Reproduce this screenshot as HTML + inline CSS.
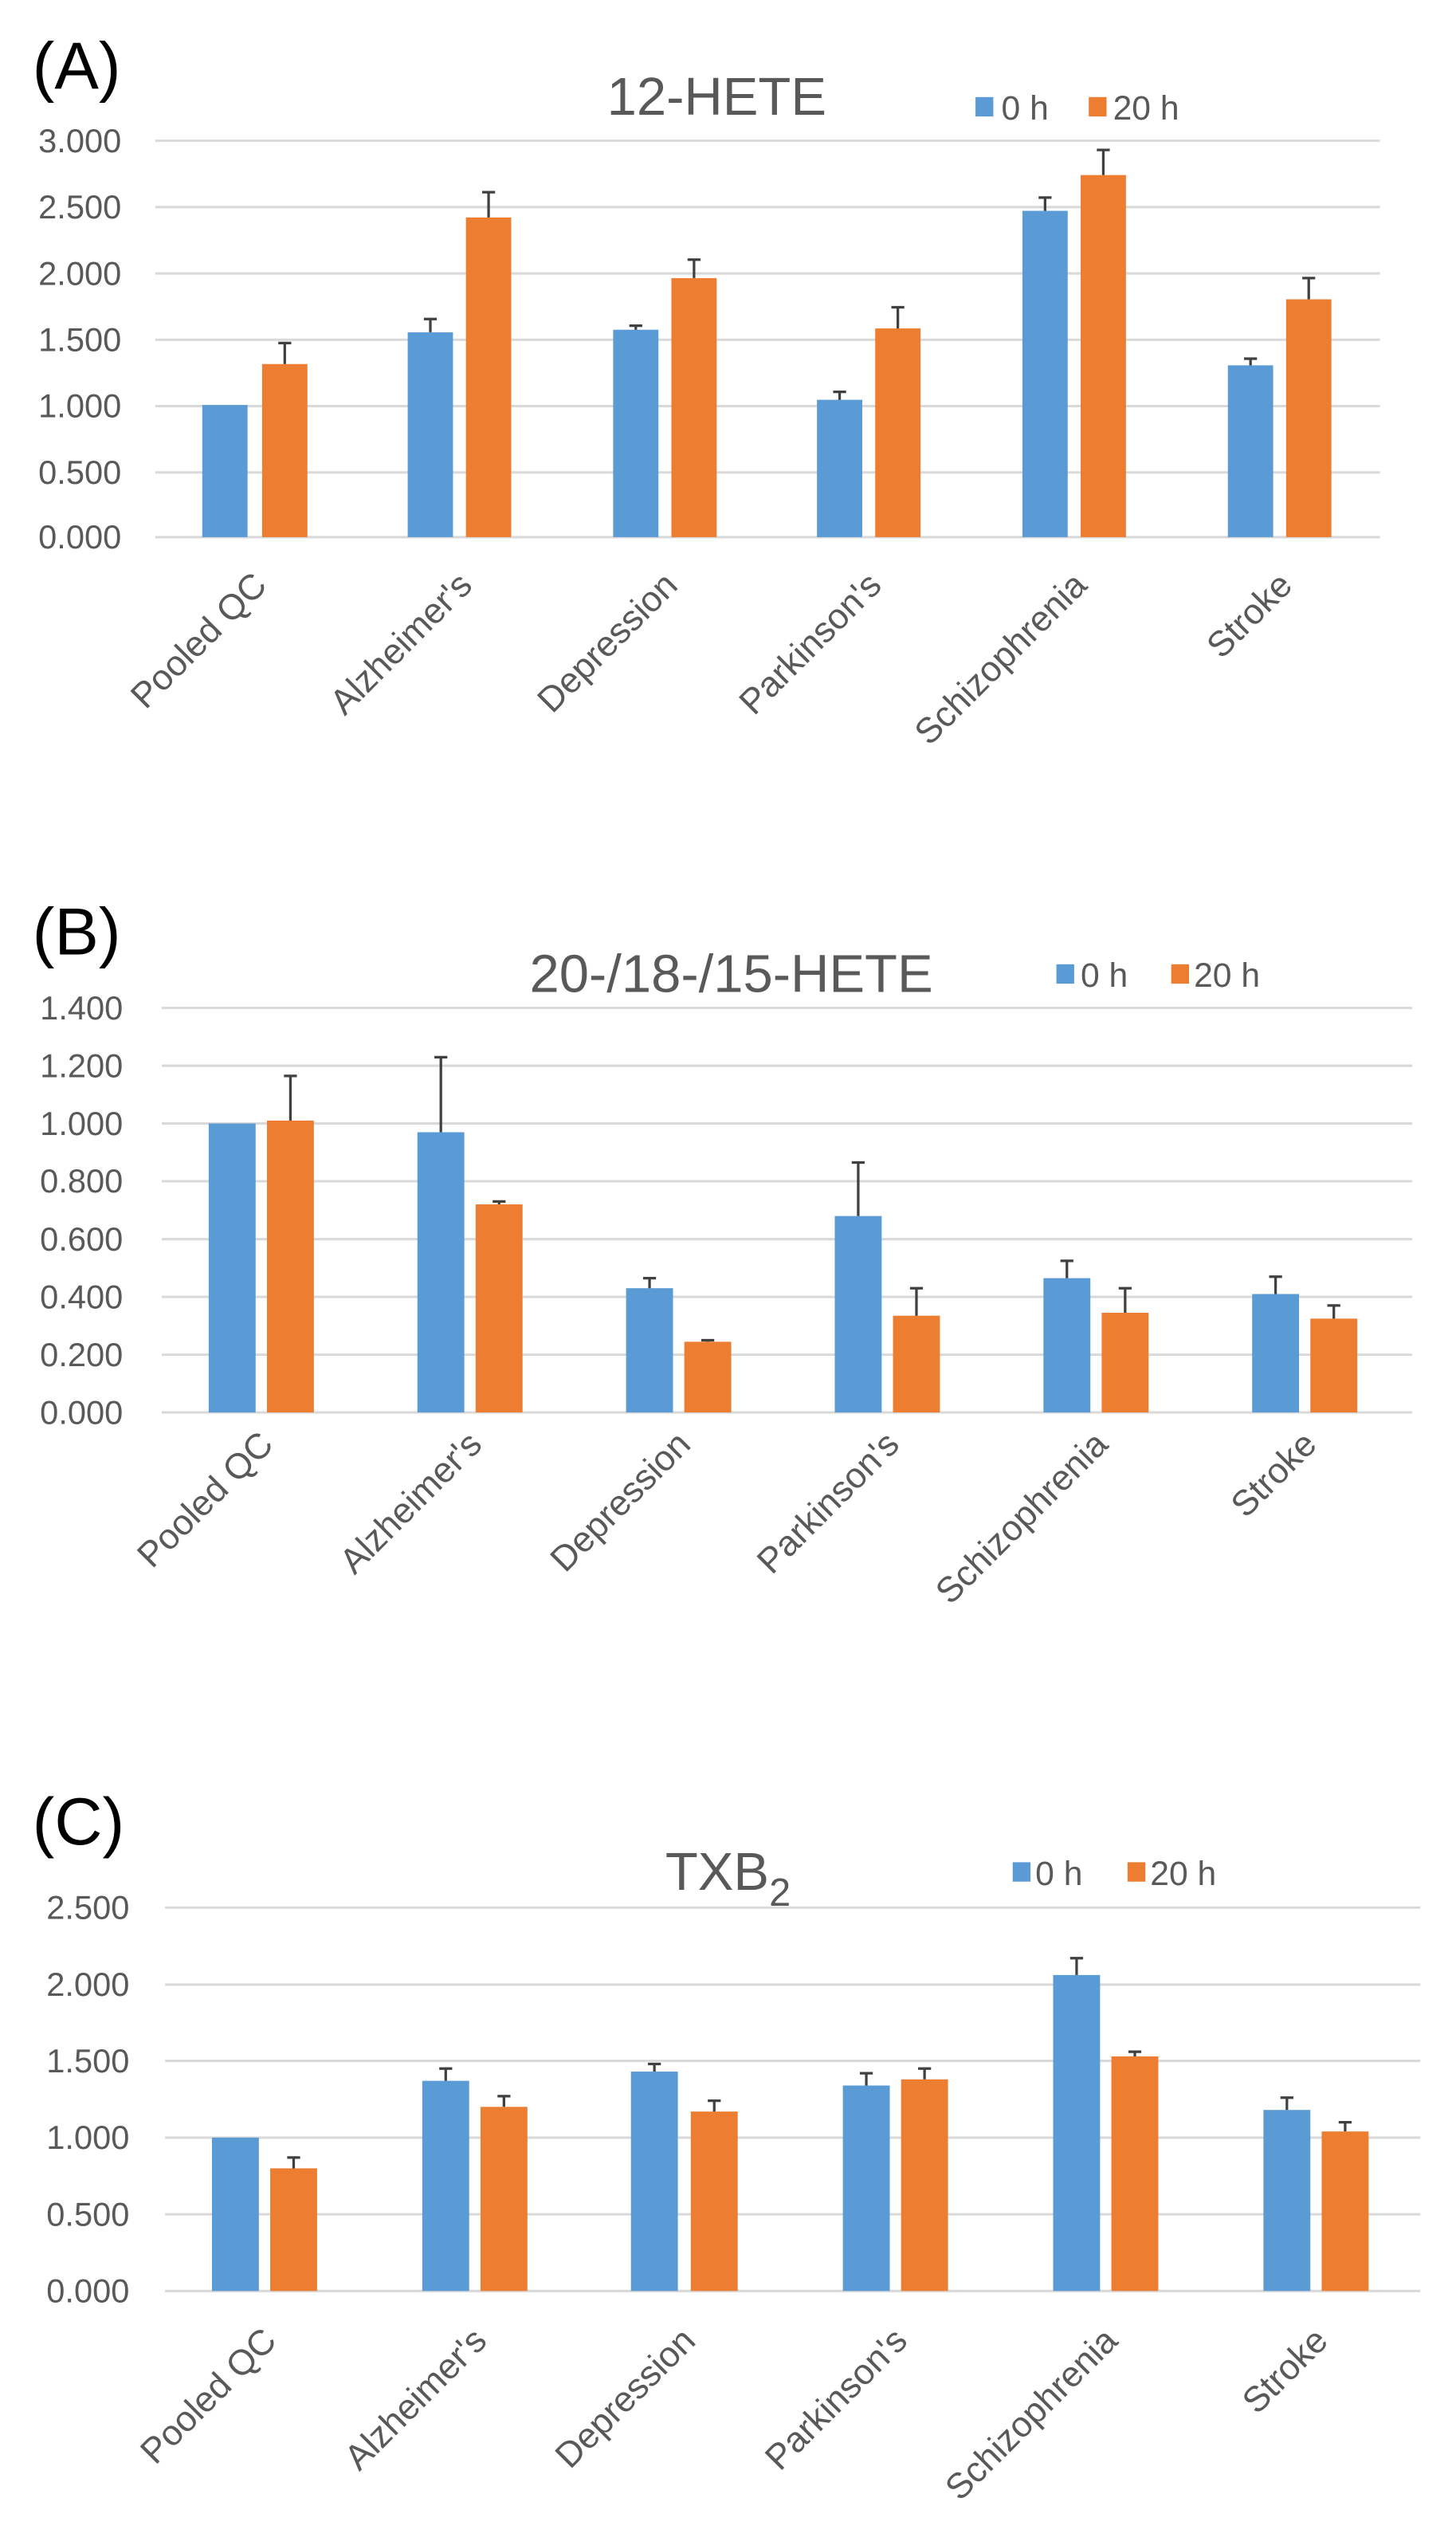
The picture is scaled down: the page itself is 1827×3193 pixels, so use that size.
<!DOCTYPE html>
<html><head><meta charset="utf-8"><style>html,body{margin:0;padding:0;background:#fff}svg{display:block}</style></head>
<body>
<svg xmlns="http://www.w3.org/2000/svg" width="1827" height="3193" viewBox="0 0 900 1573" font-family="Liberation Sans, Arial, sans-serif">
<rect width="900" height="1573" fill="#fff"/>
<!-- Panel A -->
<text x="20" y="55" font-size="41" fill="#000">(A)</text>
<text x="443" y="71" font-size="33" fill="#595959" text-anchor="middle">12-HETE</text>
<rect x="603" y="60" width="11" height="12" fill="#5B9BD5"/><text x="619" y="74" font-size="21" fill="#595959">0 h</text>
<rect x="673" y="60" width="11" height="12" fill="#ED7D31"/><text x="688" y="74" font-size="21" fill="#595959">20 h</text>
<g stroke="#D9D9D9" stroke-width="1.5">
<line x1="96" x2="853" y1="87" y2="87"/><line x1="96" x2="853" y1="128" y2="128"/><line x1="96" x2="853" y1="169" y2="169"/><line x1="96" x2="853" y1="210" y2="210"/><line x1="96" x2="853" y1="251" y2="251"/><line x1="96" x2="853" y1="292" y2="292"/><line x1="96" x2="853" y1="332" y2="332"/>
</g>
<g font-size="20.5" fill="#595959" text-anchor="end">
<text x="75" y="94">3.000</text><text x="75" y="135">2.500</text><text x="75" y="176">2.000</text><text x="75" y="217">1.500</text><text x="75" y="258">1.000</text><text x="75" y="299">0.500</text><text x="75" y="339">0.000</text>
</g>
<g fill="#5B9BD5">
<rect x="125" y="250.3" width="28" height="81.7"/><rect x="252" y="205.4" width="28" height="126.6"/><rect x="379" y="203.8" width="28" height="128.2"/><rect x="505" y="247.1" width="28" height="84.9"/><rect x="632" y="130.3" width="28" height="201.7"/><rect x="759" y="225.8" width="28" height="106.2"/>
</g>
<g fill="#ED7D31">
<rect x="162" y="225" width="28" height="107"/><rect x="288" y="134.4" width="28" height="197.6"/><rect x="415" y="171.9" width="28" height="160.1"/><rect x="541" y="203" width="28" height="129"/><rect x="668" y="108.2" width="28" height="223.8"/><rect x="795" y="185" width="28" height="147"/>
</g>
<g stroke="#404040" stroke-width="1.6" fill="none">
<path d="M176 225V212M172 212H180"/><path d="M266 205.4V197.2M262 197.2H270"/><path d="M302 134.4V118.8M298 118.8H306"/><path d="M393 203.8V201.3M389 201.3H397"/><path d="M429 171.9V160.5M425 160.5H433"/><path d="M519 247.1V242.2M515 242.2H523"/><path d="M555 203V189.9M551 189.9H559"/><path d="M646 130.3V122.1M642 122.1H650"/><path d="M682 108.2V92.7M678 92.7H686"/><path d="M773 225.8V221.7M769 221.7H777"/><path d="M809 185V171.9M805 171.9H813"/>
</g>
<g font-size="22" fill="#595959" text-anchor="end">
<text transform="translate(166,363) rotate(-45)">Pooled QC</text><text transform="translate(293,363) rotate(-45)">Alzheimer's</text><text transform="translate(420,363) rotate(-45)">Depression</text><text transform="translate(546,363) rotate(-45)">Parkinson's</text><text transform="translate(673,363) rotate(-45)">Schizophrenia</text><text transform="translate(800,363) rotate(-45)">Stroke</text>
</g>
<!-- Panel B -->
<text x="20" y="590" font-size="41" fill="#000">(B)</text>
<text x="452" y="613" font-size="33" fill="#595959" text-anchor="middle">20-/18-/15-HETE</text>
<rect x="653" y="596" width="11" height="12" fill="#5B9BD5"/><text x="668" y="610" font-size="21" fill="#595959">0 h</text>
<rect x="724" y="596" width="11" height="12" fill="#ED7D31"/><text x="738" y="610" font-size="21" fill="#595959">20 h</text>
<g stroke="#D9D9D9" stroke-width="1.5">
<line x1="100" x2="873" y1="623" y2="623"/><line x1="100" x2="873" y1="658.7" y2="658.7"/><line x1="100" x2="873" y1="694.4" y2="694.4"/><line x1="100" x2="873" y1="730.1" y2="730.1"/><line x1="100" x2="873" y1="765.9" y2="765.9"/><line x1="100" x2="873" y1="801.6" y2="801.6"/><line x1="100" x2="873" y1="837.3" y2="837.3"/><line x1="100" x2="873" y1="873" y2="873"/>
</g>
<g font-size="20.5" fill="#595959" text-anchor="end">
<text x="76" y="630">1.400</text><text x="76" y="665.7">1.200</text><text x="76" y="701.4">1.000</text><text x="76" y="737.1">0.800</text><text x="76" y="772.9">0.600</text><text x="76" y="808.6">0.400</text><text x="76" y="844.3">0.200</text><text x="76" y="880">0.000</text>
</g>
<g fill="#5B9BD5">
<rect x="129" y="694.4" width="29" height="178.6"/><rect x="258" y="699.8" width="29" height="173.2"/><rect x="387" y="796.2" width="29" height="76.8"/><rect x="516" y="751.6" width="29" height="121.4"/><rect x="645" y="790" width="29" height="83"/><rect x="774" y="799.8" width="29" height="73.2"/>
</g>
<g fill="#ED7D31">
<rect x="165" y="692.6" width="29" height="180.4"/><rect x="294" y="744.4" width="29" height="128.6"/><rect x="423" y="829.3" width="29" height="43.7"/><rect x="552" y="813.2" width="29" height="59.8"/><rect x="681" y="811.4" width="29" height="61.6"/><rect x="810" y="815" width="29" height="58"/>
</g>
<g stroke="#404040" stroke-width="1.6" fill="none">
<path d="M179.5 692.6V665M175.5 665H183.5"/><path d="M272.5 699.8V653.4M268.5 653.4H276.5"/><path d="M308.5 744.4V742.6M304.5 742.6H312.5"/><path d="M401.5 796.2V790M397.5 790H405.5"/><path d="M437.5 829.3V828.4M433.5 828.4H441.5"/><path d="M530.5 751.6V718.5M526.5 718.5H534.5"/><path d="M566.5 813.2V796.2M562.5 796.2H570.5"/><path d="M659.5 790V779.3M655.5 779.3H663.5"/><path d="M695.5 811.4V796.2M691.5 796.2H699.5"/><path d="M788.5 799.8V789.1M784.5 789.1H792.5"/><path d="M824.5 815V806.9M820.5 806.9H828.5"/>
</g>
<g font-size="22" fill="#595959" text-anchor="end">
<text transform="translate(170,894) rotate(-45)">Pooled QC</text><text transform="translate(299,894) rotate(-45)">Alzheimer's</text><text transform="translate(428,894) rotate(-45)">Depression</text><text transform="translate(557,894) rotate(-45)">Parkinson's</text><text transform="translate(686,894) rotate(-45)">Schizophrenia</text><text transform="translate(815,894) rotate(-45)">Stroke</text>
</g>
<!-- Panel C -->
<text x="20" y="1140" font-size="41" fill="#000">(C)</text>
<text x="450" y="1168" font-size="33" fill="#595959" text-anchor="middle">TXB<tspan font-size="24" dy="10">2</tspan></text>
<rect x="626" y="1151" width="11" height="12" fill="#5B9BD5"/><text x="640" y="1165" font-size="21" fill="#595959">0 h</text>
<rect x="697" y="1151" width="11" height="12" fill="#ED7D31"/><text x="711" y="1165" font-size="21" fill="#595959">20 h</text>
<g stroke="#D9D9D9" stroke-width="1.5">
<line x1="102" x2="878" y1="1179" y2="1179"/><line x1="102" x2="878" y1="1226.6" y2="1226.6"/><line x1="102" x2="878" y1="1273.8" y2="1273.8"/><line x1="102" x2="878" y1="1321.2" y2="1321.2"/><line x1="102" x2="878" y1="1368.6" y2="1368.6"/><line x1="102" x2="878" y1="1416" y2="1416"/>
</g>
<g font-size="20.5" fill="#595959" text-anchor="end">
<text x="80" y="1186">2.500</text><text x="80" y="1233.6">2.000</text><text x="80" y="1280.8">1.500</text><text x="80" y="1328.2">1.000</text><text x="80" y="1375.6">0.500</text><text x="80" y="1423">0.000</text>
</g>
<g fill="#5B9BD5">
<rect x="131" y="1321.2" width="29" height="94.8"/><rect x="261" y="1286.1" width="29" height="129.9"/><rect x="390" y="1280.4" width="29" height="135.6"/><rect x="521" y="1289" width="29" height="127"/><rect x="651" y="1220.7" width="29" height="195.3"/><rect x="781" y="1304.1" width="29" height="111.9"/>
</g>
<g fill="#ED7D31">
<rect x="167" y="1340.2" width="29" height="75.8"/><rect x="297" y="1302.2" width="29" height="113.8"/><rect x="427" y="1305.1" width="29" height="110.9"/><rect x="557" y="1285.2" width="29" height="130.8"/><rect x="687" y="1271" width="29" height="145"/><rect x="817" y="1317.4" width="29" height="98.6"/>
</g>
<g stroke="#404040" stroke-width="1.6" fill="none">
<path d="M181.5 1340.2V1333.5M177.5 1333.5H185.5"/><path d="M275.5 1286.1V1278.5M271.5 1278.5H279.5"/><path d="M311.5 1302.2V1295.6M307.5 1295.6H315.5"/><path d="M404.5 1280.4V1275.7M400.5 1275.7H408.5"/><path d="M441.5 1305.1V1298.4M437.5 1298.4H445.5"/><path d="M535.5 1289V1281.4M531.5 1281.4H539.5"/><path d="M571.5 1285.2V1278.5M567.5 1278.5H575.5"/><path d="M665.5 1220.7V1210.3M661.5 1210.3H669.5"/><path d="M701.5 1271V1268.1M697.5 1268.1H705.5"/><path d="M795.5 1304.1V1296.5M791.5 1296.5H799.5"/><path d="M831.5 1317.4V1311.7M827.5 1311.7H835.5"/>
</g>
<g font-size="22" fill="#595959" text-anchor="end">
<text transform="translate(172,1448) rotate(-45)">Pooled QC</text><text transform="translate(302,1448) rotate(-45)">Alzheimer's</text><text transform="translate(431,1448) rotate(-45)">Depression</text><text transform="translate(562,1448) rotate(-45)">Parkinson's</text><text transform="translate(692,1448) rotate(-45)">Schizophrenia</text><text transform="translate(822,1448) rotate(-45)">Stroke</text>
</g>
</svg>
</body></html>
